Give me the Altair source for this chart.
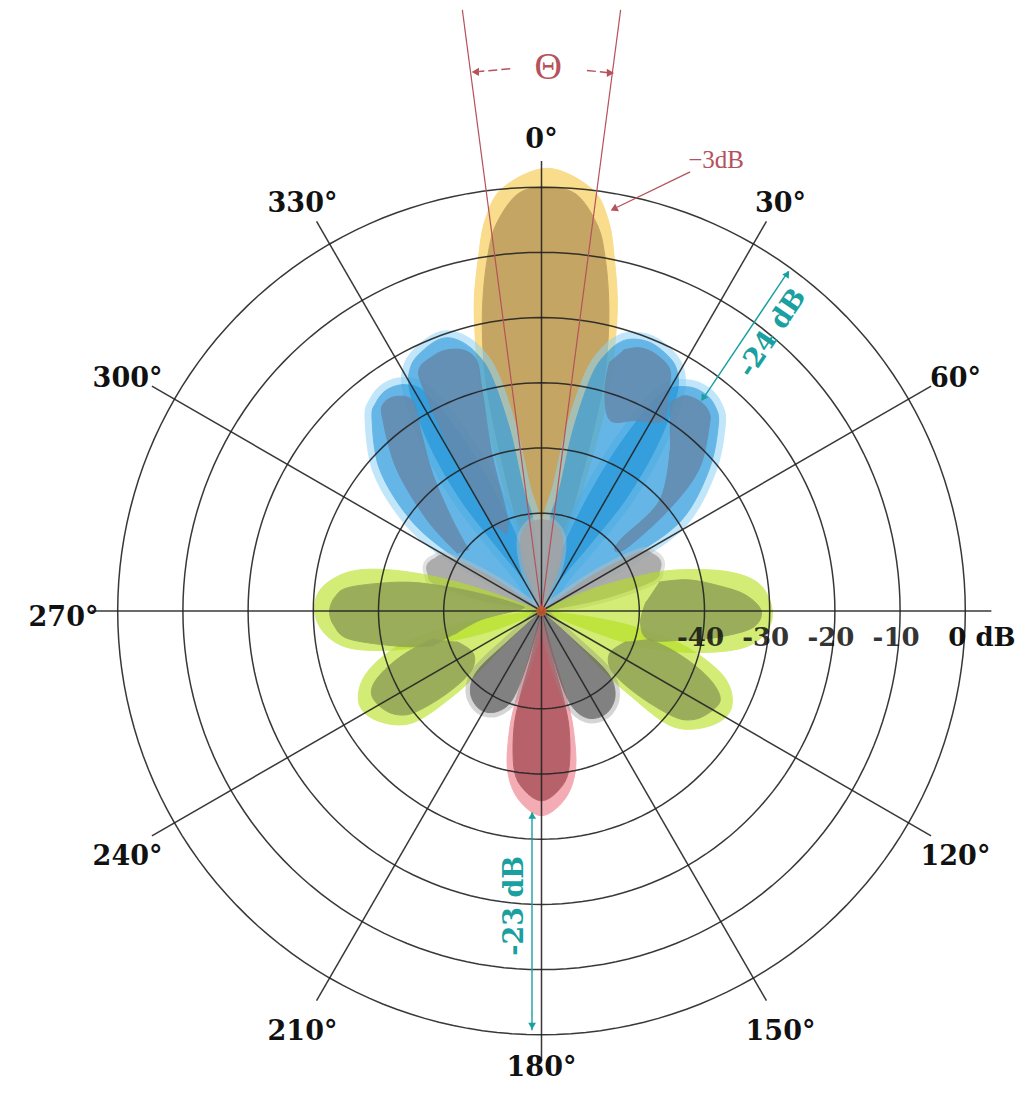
import altair as alt
import pandas as pd

# ---------------- geometry of the polar frame ----------------
FLOOR = -65.0      # dB value at the pole
PX = 6.52          # pixels per dB along a radius
W, H = 1008, 1080  # plot area
CX, CY = 533.5, 603.0  # pole position inside the plot area

# ---------------- data ----------------
ring_db = [-50, -40, -30, -20, -10, 0]
spoke_ang = [0, 30, 60, 90, 120, 150, 180, 210, 240, 270, 300, 330]
angle_label_text = ["0°", "30°", "60°", "120°", "150°", "180°", "210°", "240°", "270°", "300°", "330°"]
angle_label_ang = [0, 30, 60, 120, 150, 180, 210, 240, 270, 300, 330]
db_label_text = ["-40", "-30", "-20", "-10"]
db_label_val = [-40, -30, -20, -10]
zero_label_text = ["0 dB"]
zero_label_val = [0]

# lobe outlines: angle (deg, clockwise from 0°) and level (dB)
# main lobe (0°)
yellow_halo_ang = [-17.2, -17.7, -17.2, -16.2, -15.2, -13.7, -12.2, -10.2, -8.2, -5.2, 0.8, 6.8, 9.8, 11.8, 13.8, 15.3, 16.8, 17.8, 18.8, 19.3, 18.8]
yellow_halo_db = [-65, -55.8, -46.6, -35.9, -28.3, -22.2, -16.2, -10.2, -4.4, 0.2, 2.9, 0.2, -4.4, -10.2, -16.2, -22.2, -28.3, -35.9, -46.6, -55.8, -65]
yellow_core_ang = [-15.7, -15.7, -15.2, -14.4, -13.5, -12.2, -10.6, -8.7, -6.7, -3.2, 0.8, 4.8, 8.3, 10.3, 12.2, 13.8, 15.1, 16.0, 16.8, 17.3, 17.3]
yellow_core_db = [-65, -55.8, -46.6, -35.9, -28.3, -22.2, -16.2, -10.2, -5.3, -0.9, 0, -0.9, -5.3, -10.2, -16.2, -22.2, -28.3, -35.9, -46.6, -55.8, -65]

# blue side lobes
bl2_halo_ang = [-15, -18, -22, -25, -28, -31, -35, -38.5, -41.4, -48.8, -55, -58, -57, -50]
bl2_halo_db = [-65, -54.3, -43.5, -34.3, -27.0, -24.5, -23.6, -24.2, -25.7, -32.0, -40.3, -48.1, -55.8, -65]
br2_halo_ang = [16, 19, 23, 26, 29, 33, 37, 40.5, 43.5, 49.8, 56.9, 59, 58, 52]
br2_halo_db = [-65, -54.3, -43.5, -34.3, -26.7, -24.0, -23.3, -23.9, -25.6, -31.3, -39.2, -48.1, -55.8, -65]
bl1_halo_ang = [-3, -4, -5.3, -8.5, -9.9, -12, -14.2, -17, -20, -24, -28, -31, -34, -36, -35, -30, -28]
bl1_halo_db = [-65, -58.9, -51.0, -45.8, -36.8, -28.2, -24.2, -21.6, -20.5, -21.0, -22.4, -25.9, -34.3, -43.5, -52.7, -59.6, -65]
br1_halo_ang = [3, 4, 5.3, 8.5, 9.9, 12, 14.2, 17, 21, 25, 29, 32, 35, 37, 36, 31, 29]
br1_halo_db = [-65, -58.9, -51.0, -45.8, -36.8, -28.2, -24.2, -21.6, -20.6, -21.0, -22.4, -25.9, -34.3, -43.5, -52.7, -59.6, -65]

bl2_core_ang = [-55.5, -51.5, -45.6, -39.6, -37.3, -34, -31.5, -34, -38.5, -44, -50]
bl2_core_db = [-49.4, -42.6, -33.9, -26.8, -25.0, -25.3, -27.3, -32.0, -38.2, -45.1, -50.4]
bl1_core_ang = [-30, -29.5, -28, -26.8, -23, -20, -16.5, -14.5, -15, -17.5, -20, -25]
bl1_core_db = [-49.7, -36.5, -26.5, -23.4, -22.5, -22.4, -23.3, -25.4, -29.6, -39.7, -49.7, -52.0]
br1_core_ang = [15.3, 16, 19.7, 26, 32.5, 30, 27.9, 24, 20.5, 17.5]
br1_core_db = [-25.4, -29.7, -33.9, -32.5, -30.3, -25.9, -23.0, -21.9, -21.9, -23.0]
br2_core_ang = [31.7, 33.5, 37, 40, 42.2, 48, 51.4, 53.5, 51, 47.9, 46.9, 38.6]
br2_core_db = [-27.6, -25.4, -24.7, -25.1, -26.7, -32.5, -39.8, -48.3, -50.4, -48.7, -40.2, -33.4]

# green lobes
g270_halo_ang = [248, 248, 252, 255, 259, 264, 270, 276, 281.5, 285, 288, 290, 292]
g270_halo_db = [-65, -57.3, -49.7, -42.0, -35.1, -31.6, -30.2, -31.1, -34.9, -40.5, -48.1, -55.8, -65]
g90_halo_ang = [68, 66, 70, 73, 78, 83, 90, 96, 101, 106, 110, 112, 112]
g90_halo_db = [-65, -57.3, -49.7, -43.5, -35.9, -31.3, -29.6, -30.6, -34.3, -42.0, -49.7, -57.3, -65]
g117_halo_ang = [95, 97, 100, 104, 110, 117, 124, 131.4, 133.7, 134, 132, 128]
g117_halo_db = [-65, -57.3, -49.7, -42.0, -35.1, -32.3, -33.6, -38.2, -46.6, -52.6, -58.9, -65]
g243_halo_ang = [265, 263, 260, 256, 250, 243, 236, 229, 226, 226, 228, 232]
g243_halo_db = [-65, -57.3, -49.7, -42.0, -36.2, -33.6, -34.8, -38.9, -46.6, -52.6, -58.9, -65]

g270_core_ang = [252.2, 256, 261.7, 266, 270, 274, 277.1, 281.5, 284, 286, 285, 275, 262, 255]
g270_core_db = [-47.5, -42.6, -35.2, -33.1, -32.5, -33.3, -35.4, -42.8, -48.9, -55.8, -61.2, -61.9, -55.8, -51.2]
g90_core_ang = [76.2, 78, 82, 85.5, 90, 94.5, 98.3, 101, 105, 97, 85]
g90_core_db = [-46.4, -42.0, -37.4, -33.6, -31.3, -32.5, -37.4, -42.0, -47.8, -49.7, -48.9]
g117_core_ang = [104.5, 107, 110.2, 113.5, 117, 122, 126, 128.7, 131, 130.7, 122, 110]
g117_core_db = [-47.8, -43.5, -39.2, -35.9, -34.3, -35.1, -36.6, -39.2, -45.1, -50.6, -52.7, -51.2]
g243_core_ang = [255.5, 253, 249.8, 246.5, 243, 238, 234, 231.3, 229, 229.3, 238, 250]
g243_core_db = [-47.8, -43.5, -39.7, -36.9, -35.9, -36.5, -37.9, -40.2, -45.4, -50.6, -52.7, -51.2]

# grey lobes
gray0_ang = [-18, -22, -16, -8, 0, 8, 16, 22, 18]
gray0_db = [-65, -58, -53.5, -51.5, -51, -51.5, -53.5, -58, -65]
grayr_ang = [57, 55, 59, 63, 67, 71, 75, 79, 77]
grayr_db = [-65, -55.8, -47.5, -45.8, -45.2, -45.8, -47.5, -55.8, -65]
grayl_ang = [302, 304, 300, 296, 292, 288, 284, 280, 282]
grayl_db = [-65, -56.1, -48.3, -46.7, -46.1, -46.7, -48.3, -56.1, -65]
darkr_ang = [136, 132, 133, 139, 148, 157, 163, 166, 162]
darkr_db = [-65, -58.1, -51.2, -47.8, -46.4, -47.2, -50.4, -57.3, -65]
darkl_ang = [224, 228, 227, 221, 212, 204, 198, 195, 198]
darkl_db = [-65, -58.1, -51.5, -48.4, -47.2, -48.1, -50.9, -57.6, -65]

# back lobe (180°)
red_halo_ang = [168, 165, 164, 165, 168, 173, 180, 187, 192, 195, 196, 195, 192]
red_halo_db = [-65, -58.1, -51.2, -46.0, -40.0, -35.9, -33.6, -35.9, -40.0, -46.0, -51.2, -58.1, -65]
red_core_ang = [170, 167.5, 166, 167, 170.5, 175, 180, 185, 189.5, 193, 194, 192.5, 190]
red_core_db = [-65, -58.1, -51.2, -46.0, -40.0, -37.2, -35.9, -37.2, -40.0, -46.0, -51.2, -58.1, -65]

# drawing order: (id, style, angles, levels)
lobes = [
    ("yellow_h", "yellow_h", yellow_halo_ang, yellow_halo_db),
    ("yellow_c", "yellow_c", yellow_core_ang, yellow_core_db),
    ("bl2_r", "blue_rim", bl2_halo_ang, bl2_halo_db),
    ("br2_r", "blue_rim", br2_halo_ang, br2_halo_db),
    ("bl1_r", "blue_rim", bl1_halo_ang, bl1_halo_db),
    ("br1_r", "blue_rim", br1_halo_ang, br1_halo_db),
    ("bl2_h", "blue_h", bl2_halo_ang, bl2_halo_db),
    ("br2_h", "blue_h", br2_halo_ang, br2_halo_db),
    ("bl1_h", "blue_h", bl1_halo_ang, bl1_halo_db),
    ("br1_h", "blue_h", br1_halo_ang, br1_halo_db),
    ("bl2_c", "blue_c", bl2_core_ang, bl2_core_db),
    ("br2_c", "blue_c", br2_core_ang, br2_core_db),
    ("bl1_c", "blue_c", bl1_core_ang, bl1_core_db),
    ("br1_c", "blue_c", br1_core_ang, br1_core_db),
    ("gray0_h", "gray_h", gray0_ang, gray0_db),
    ("gray0_c", "gray_c", gray0_ang, gray0_db),
    ("grayr_h", "gray_h", grayr_ang, grayr_db),
    ("grayr_c", "gray_c", grayr_ang, grayr_db),
    ("grayl_h", "gray_h", grayl_ang, grayl_db),
    ("grayl_c", "gray_c", grayl_ang, grayl_db),
    ("g270_h", "green_h", g270_halo_ang, g270_halo_db),
    ("g90_h", "green_h", g90_halo_ang, g90_halo_db),
    ("g243_h", "green_h", g243_halo_ang, g243_halo_db),
    ("g117_h", "green_h", g117_halo_ang, g117_halo_db),
    ("g270_c", "green_c", g270_core_ang, g270_core_db),
    ("g90_c", "green_c", g90_core_ang, g90_core_db),
    ("g243_c", "green_c", g243_core_ang, g243_core_db),
    ("g117_c", "green_c", g117_core_ang, g117_core_db),
    ("red_h", "red_h", red_halo_ang, red_halo_db),
    ("red_c", "red_c", red_core_ang, red_core_db),
    ("darkr_h", "dark_h", darkr_ang, darkr_db),
    ("darkr_c", "dark_c", darkr_ang, darkr_db),
    ("darkl_h", "dark_h", darkl_ang, darkl_db),
    ("darkl_c", "dark_c", darkl_ang, darkl_db),
]

# annotations (angle deg, level dB)
theta_line_ang = [-7.5, 7.5]
theta_line_from, theta_line_to = -65, 28
red_shafts = [(-3.3, 18.3, -6.6, 18.3), (4.8, 18.2, 7.1, 18.2)]
red_pointer = [(18.7, 6.1, 10.6, -2.0)]
red_heads = [(-7.0, 18.3, 270), (7.3, 18.2, 90), (10.2, -2.35, 244)]
teal_shafts = [(37.3, -24.4, 36.0, -0.6), (182.7, -34.1, 181.3, -0.7)]
teal_heads = [(36.1, -1.0, 33.9), (37.2, -24.0, 213.9), (182.6, -33.6, 0), (181.3, -1.3, 180)]
theta_note = [("Θ", 0.7, 18.3)]
m3_note = [("−3dB", 21.15, 9.2)]
teal_notes = [("-24 dB", 39.7, -9.6, 304), ("-23 dB", 185.1, -19.6, 270)]

# ---------------- styles ----------------
STYLE = {
    "yellow_h": dict(fill="#f9dc8c", op=1.0, sw=1),
    "yellow_c": dict(fill="#c5a563", op=1.0, sw=1),
    "blue_rim": dict(fill="#8fd3f5", op=0.55, sw=15),
    "blue_h": dict(fill="#1a8fd8", op=0.55, sw=1),
    "blue_c": dict(fill="#638aac", op=0.85, sw=1),
    "gray_h": dict(fill="#bdbdbd", op=0.45, sw=8),
    "gray_c": dict(fill="#a3a3a3", op=0.85, sw=1),
    "green_h": dict(fill="#b5e01a", op=0.6, sw=1),
    "green_c": dict(fill="#90a357", op=0.85, sw=1),
    "dark_h": dict(fill="#8a8a8a", op=0.35, sw=10),
    "dark_c": dict(fill="#4f4f4f", op=0.62, sw=1),
    "red_h": dict(fill="#ec7483", op=0.6, sw=1),
    "red_c": dict(fill="#ad565e", op=0.85, sw=1),
}
RED_NOTE = "#b5525c"
TEAL = "#1aa0a0"
GRID = "#222222"

XS = alt.Scale(domain=[-CX / PX, (W - CX) / PX], nice=False, zero=False)
YS = alt.Scale(domain=[-(H - CY) / PX, CY / PX], nice=False, zero=False)


def enc_xy(xf="x", yf="y"):
    return dict(x=alt.X(f"{xf}:Q", scale=XS, axis=None), y=alt.Y(f"{yf}:Q", scale=YS, axis=None))


def enc_rule():
    return dict(x=alt.X("x:Q", scale=XS, axis=None), y=alt.Y("y:Q", scale=YS, axis=None),
                x2=alt.X2("x2:Q"), y2=alt.Y2("y2:Q"))


def polar(ch, a="ang", d="db", xo="x", yo="y"):
    return ch.transform_calculate(**{
        xo: f"(datum.{d} - ({FLOOR})) * sin(datum.{a} * PI / 180)",
        yo: f"(datum.{d} - ({FLOOR})) * cos(datum.{a} * PI / 180)",
    })


layers = []

# lobes
rows = []
for lid, sty, angs, dbs in lobes:
    for i, (a, d) in enumerate(zip(angs, dbs)):
        rows.append({"lobe": lid, "i": i, "ang": a, "db": d})
lobe_df = pd.DataFrame(rows)
for lid, sty, _, _ in lobes:
    st = STYLE[sty]
    layers.append(
        polar(alt.Chart(lobe_df).transform_filter(alt.datum.lobe == lid))
        .mark_line(fill=st["fill"], stroke=st["fill"], strokeWidth=st["sw"], strokeJoin="round",
                   strokeCap="round", opacity=st["op"], interpolate="cardinal")
        .encode(order="i:Q", **enc_xy())
    )

# grid rings
ring_df = pd.DataFrame({"ring": ring_db})
layers.append(
    polar(alt.Chart(ring_df).transform_calculate(ang="sequence(0, 362, 2)").transform_flatten(["ang"])
          .transform_calculate(db="datum.ring"))
    .mark_line(stroke=GRID, strokeWidth=1.5, opacity=0.9)
    .encode(detail="ring:N", order="ang:Q", **enc_xy())
)
# spokes
spoke_df = pd.DataFrame({"ang": spoke_ang})
layers.append(
    polar(alt.Chart(spoke_df).transform_calculate(db="4"), xo="x2", yo="y2")
    .transform_calculate(x="0", y="0")
    .mark_rule(stroke=GRID, strokeWidth=1.5, opacity=0.9)
    .encode(**enc_rule())
)

# dB scale labels
db_df = pd.DataFrame({"label": db_label_text, "db": db_label_val})
layers.append(
    alt.Chart(db_df).transform_calculate(x=f"datum.db - ({FLOOR})", y=f"{-27 / PX}")
    .mark_text(font="DejaVu Serif", fontWeight="bold", fontSize=26, color="#111", opacity=0.85,
               align="center", baseline="middle", dx=-4)
    .encode(text="label:N", **enc_xy())
)
zero_df = pd.DataFrame({"label": zero_label_text, "db": zero_label_val})
layers.append(
    alt.Chart(zero_df).transform_calculate(x=f"datum.db - ({FLOOR})", y=f"{-27 / PX}")
    .mark_text(font="DejaVu Serif", fontWeight="bold", fontSize=26, color="#111",
               align="left", baseline="middle", dx=-17)
    .encode(text="label:N", **enc_xy())
)

# half-power lines
tl_df = pd.DataFrame({"ang": theta_line_ang, "d1": theta_line_from, "d2": theta_line_to})
layers.append(
    polar(polar(alt.Chart(tl_df), d="d1", xo="x", yo="y"), d="d2", xo="x2", yo="y2")
    .mark_rule(stroke=RED_NOTE, strokeWidth=1.2)
    .encode(**enc_rule())
)


def shaft_layer(tuples, color, width, dash=None):
    df = pd.DataFrame(tuples, columns=["a1", "d1", "a2", "d2"])
    kw = dict(stroke=color, strokeWidth=width)
    if dash:
        kw["strokeDash"] = dash
    return (polar(polar(alt.Chart(df), a="a1", d="d1", xo="x", yo="y"), a="a2", d="d2", xo="x2", yo="y2")
            .mark_rule(**kw).encode(**enc_rule()))


def head_layer(tuples, color, size):
    df = pd.DataFrame(tuples, columns=["ang", "db", "rot"])
    return (polar(alt.Chart(df))
            .mark_point(shape="triangle-up", filled=True, color=color, size=size, opacity=1)
            .encode(angle=alt.Angle("rot:Q", scale=None), **enc_xy()))


layers.append(shaft_layer(red_shafts, RED_NOTE, 1.5, [9, 4]))
layers.append(shaft_layer(red_pointer, RED_NOTE, 1.3))
layers.append(head_layer(red_heads, RED_NOTE, 70))
layers.append(shaft_layer(teal_shafts, TEAL, 1.4))
layers.append(head_layer(teal_heads, TEAL, 60))

# centre glow
layers.append(
    polar(alt.Chart(pd.DataFrame({"ang": [0], "db": [FLOOR]})))
    .mark_point(shape="circle", filled=True, color="#d8612c", size=110, opacity=0.75)
    .encode(**enc_xy())
)

# annotation texts
theta_df = pd.DataFrame(theta_note, columns=["label", "ang", "db"])
layers.append(polar(alt.Chart(theta_df)).mark_text(font="Liberation Serif", fontSize=38, color=RED_NOTE,
                                                   align="center", baseline="middle")
              .encode(text="label:N", **enc_xy()))
m3_df = pd.DataFrame(m3_note, columns=["label", "ang", "db"])
layers.append(polar(alt.Chart(m3_df)).mark_text(font="Liberation Serif", fontSize=25, color=RED_NOTE,
                                                align="center", baseline="middle")
              .encode(text="label:N", **enc_xy()))
for label, a, d, rot in teal_notes:
    df = pd.DataFrame({"label": [label], "ang": [a], "db": [d]})
    layers.append(polar(alt.Chart(df)).mark_text(font="DejaVu Serif", fontWeight="bold", fontSize=27, color=TEAL,
                                                 align="center", baseline="middle", angle=rot)
                  .encode(text="label:N", **enc_xy()))

# angle labels
lab_df = pd.DataFrame({"label": angle_label_text, "ang": angle_label_ang})
layers.append(
    polar(alt.Chart(lab_df).transform_calculate(db=f"(datum.ang == 180 ? 450 : 478) / {PX} + ({FLOOR})"))
    .mark_text(font="DejaVu Serif", fontWeight="bold", fontSize=27, color="#111", align="center",
               baseline="middle", dy=7)
    .encode(text="label:N", **enc_xy())
)

chart = (alt.layer(*layers)
         .properties(width=W, height=H, padding=0, autosize=alt.AutoSizeParams(type="none"), background="white")
         .configure_view(strokeWidth=0))

chart.save("out.html", embed_options={"renderer": "svg", "actions": False})
